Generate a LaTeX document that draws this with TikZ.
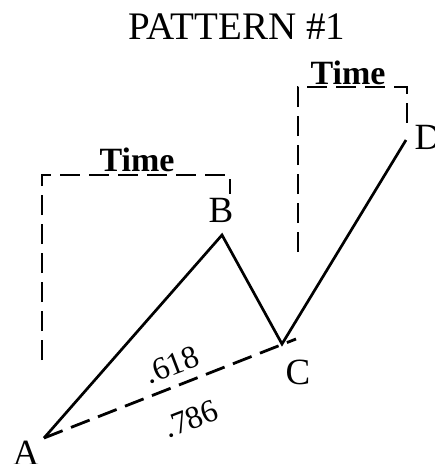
\documentclass[tikz,border=0pt]{standalone}
\usepackage{fontspec}
\setmainfont{Liberation Serif}

\begin{document}
\begin{tikzpicture}[x=1pt,y=-1pt,
    leg/.style={line width=2.7pt},
    guide/.style={line width=2.8pt, dash pattern=on 20pt off 9pt},
    ptlabel/.style={font=\fontsize{37}{37}\selectfont, inner sep=0pt},
    timelabel/.style={font=\bfseries\fontsize{34}{34}\selectfont, inner sep=0pt},
    ratio/.style={font=\fontsize{32}{32}\selectfont, inner sep=0pt, rotate=21}]
  \useasboundingbox (0,0) rectangle (435,464);

  % Title
  \node[font=\fontsize{39}{39}\selectfont, inner sep=0pt] (title) at (237,27) {PATTERN \#1};

  % Swing points
  \coordinate (A) at (44,438);
  \coordinate (B) at (222,235);
  \coordinate (C) at (282,344);
  \coordinate (D) at (406,140);
  \coordinate (Cend) at (296,339);

  % Price legs
  \draw[leg, line join=miter] (A) -- (B) -- (C) -- (D);

  % Retracement line A to C
  \draw[guide] (A) -- (Cend);
  \node[ratio] (r1) at (172,365) {.618};
  \node[ratio] (r2) at (191,419) {.786};

  % Time brackets
  \draw[guide] (42,360) -- (42,175) -- (230,175) -- (230,194);
  \draw[guide] (298,252) -- (298,87) -- (407,87) -- (407,128);
  \node[timelabel] (t1) at (137,160) {Time};
  \node[timelabel] (t2) at (348,73) {Time};

  % Point labels
  \node[ptlabel] (lA) at (26,453) {A};
  \node[ptlabel] (lB) at (221,210) {B};
  \node[ptlabel] (lC) at (298,372) {C};
  \node[ptlabel] (lD) at (428,137) {D};
\end{tikzpicture}
\end{document}
